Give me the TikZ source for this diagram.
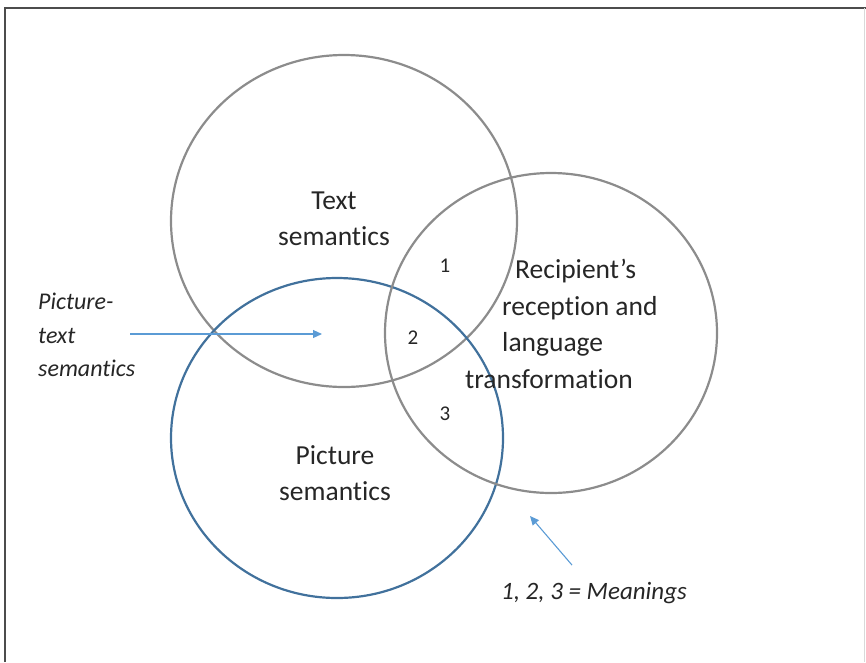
\documentclass[tikz,border=0pt]{standalone}
\usepackage{fontspec}
\setmainfont{Carlito}[RawFeature={-liga;-clig;-calt;-dlig}]
\usetikzlibrary{arrows.meta}

\definecolor{ringgray}{HTML}{8C8C8C}
\definecolor{ringblue}{HTML}{41719C}
\definecolor{pointer}{HTML}{5B9BD5}
\definecolor{ink}{HTML}{262626}

\begin{document}
\begin{tikzpicture}
[
	x=1pt, y=-1pt,
	ring/.style={line width=2.2pt, ringgray},
	bluering/.style={line width=2.2pt, ringblue},
	word/.style={inner sep=0pt, text=ink, font=\fontsize{27.5}{36.5}\selectfont, align=center},
	note/.style={inner sep=0pt, text=ink, font=\fontsize{24}{33.5}\selectfont\itshape, align=left},
	num/.style={inner sep=0pt, text=ink, font=\fontsize{21}{22}\selectfont},
	pointerarrow/.style={-{Triangle[length=9pt,width=8pt]}, line width=1.1pt, pointer}
]

	\useasboundingbox (0,0) rectangle (866,662);

	% frame
	\draw[line width=1.3pt, black!70] (5,662) -- (5,8) -- (866,8);
	\draw[line width=0.8pt, black!15] (864,8) -- (864,662);

	% circles
	\draw[ring] (344,221) ellipse [x radius=173pt, y radius=166pt];
	\draw[bluering] (337,438) ellipse [x radius=166pt, y radius=160pt];
	\draw[ring] (551,333) ellipse [x radius=166pt, y radius=160pt];

	% circle labels
	\node[word] (text) at (334,219) {Text\\semantics};
	\node[word] (picture) at (335,473) {Picture\\semantics};
	\node[word, align=left, anchor=west] (recipient) at (465,324)
		{\hspace*{50pt}Recipient’s\\\hspace*{37pt}reception and\\\hspace*{37pt}language\\transformation};

	% meanings
	\node[num] (m1) at (445,266) {1};
	\node[num] (m2) at (413,338) {2};
	\node[num] (m3) at (445,414) {3};

	% notes with arrows
	\node[note, anchor=west] (pictext) at (38,335) {Picture-\\text\\semantics};
	\coordinate (pictip) at (322,334);
	\draw[pointerarrow] (130,334) -- (pictip);

	\node[note, font=\fontsize{25}{30}\selectfont\itshape] (meanings) at (594,593) {1, 2, 3 = Meanings};
	\coordinate (meantip) at (530,516);
	\draw[pointerarrow] (meanings.north) ++(-22,-17) -- (meantip);

\end{tikzpicture}
\end{document}
